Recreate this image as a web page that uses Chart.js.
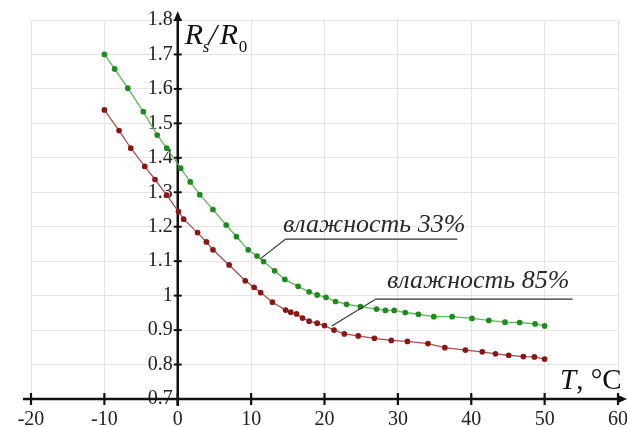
<!DOCTYPE html>
<html>
<head>
<meta charset="utf-8">
<script src="https://cdn.jsdelivr.net/npm/chart.js@4/dist/chart.umd.min.js"></script>
<style>
  html, body { margin: 0; padding: 0; background: #fff; }
  canvas { display: block; }
</style>
</head>
<body>
<canvas id="grafico" width="627" height="427"></canvas>
<script>
// Datos (T en °C, Rs/R0)
const temp33 = [-10, -8.6, -6.8, -4.7, -2.8, -1.5, 0.4, 1.7, 3.0, 4.8, 6.6, 8.0, 9.6, 10.8, 11.7, 13.2, 14.6, 16.4, 17.9, 19.0, 20.2, 21.5, 23.0, 24.9, 27.1, 28.3, 29.5, 31.0, 32.8, 34.9, 37.4, 40.1, 42.4, 44.6, 46.6, 48.7, 50.0];
const ratio33 = [1.70, 1.658, 1.602, 1.534, 1.466, 1.428, 1.37, 1.33, 1.293, 1.25, 1.205, 1.171, 1.133, 1.115, 1.099, 1.072, 1.047, 1.027, 1.011, 1.002, 0.995, 0.983, 0.975, 0.968, 0.961, 0.957, 0.957, 0.951, 0.946, 0.939, 0.939, 0.934, 0.928, 0.923, 0.922, 0.918, 0.912];

const temp85 = [-10, -8.0, -6.4, -4.5, -3.1, -1.5, 0.1, 0.8, 2.7, 3.9, 4.8, 7.0, 9.2, 10.4, 11.3, 12.9, 14.7, 15.4, 16.2, 17.0, 17.9, 19.0, 20.0, 21.3, 22.7, 24.6, 26.8, 29.1, 31.3, 34.1, 36.4, 39.2, 41.5, 43.3, 45.1, 47.1, 48.6, 50.0];
const ratio85 = [1.539, 1.479, 1.428, 1.375, 1.337, 1.292, 1.244, 1.222, 1.183, 1.156, 1.133, 1.089, 1.043, 1.024, 1.009, 0.981, 0.958, 0.952, 0.947, 0.935, 0.926, 0.920, 0.913, 0.900, 0.889, 0.883, 0.876, 0.870, 0.867, 0.861, 0.849, 0.842, 0.837, 0.831, 0.827, 0.823, 0.822, 0.816];

const xTicks = [-20, -10, 0, 10, 20, 30, 40, 50, 60];
const yTicks = [0.7, 0.8, 0.9, 1, 1.1, 1.2, 1.3, 1.4, 1.5, 1.6, 1.7, 1.8];

const etiqueta33 = 'влажность 33%';
const etiqueta85 = 'влажность 85%';

const serif = '"Liberation Serif", "DejaVu Serif", serif';

function puntos(xs, ys) {
    return xs.map((x, i) => ({ x: x, y: ys[i] }));
}

// los ejes van cruzados dentro del área: no deben reservar espacio
function sinMargen(s) {
    if (s.isHorizontal()) s.height = 0; else s.width = 0;
    s.paddingLeft = 0;
    s.paddingRight = 0;
    s.paddingTop = 0;
    s.paddingBottom = 0;
}

// Ejes gruesos con flechas y marcas, dibujados sobre la rejilla
const ejes = {
    id: 'ejes',
    beforeDatasetsDraw(chart) {
        const c = chart.ctx;
        const sx = chart.scales.x, sy = chart.scales.y;
        const x0 = sx.getPixelForValue(0);
        const y0 = sy.getPixelForValue(0.7);
        c.save();
        c.strokeStyle = '#111';
        c.fillStyle = '#111';
        c.lineWidth = 2.5;
        // eje x
        c.beginPath();
        c.moveTo(sx.getPixelForValue(-20) - 8, y0);
        c.lineTo(621, y0);
        c.stroke();
        c.beginPath();
        c.moveTo(627, y0);
        c.lineTo(617, y0 - 4.5);
        c.lineTo(617, y0 + 4.5);
        c.closePath();
        c.fill();
        // eje y
        c.beginPath();
        c.moveTo(x0, y0 + 7);
        c.lineTo(x0, 18);
        c.stroke();
        c.beginPath();
        c.moveTo(x0, 11);
        c.lineTo(x0 - 4, 21);
        c.lineTo(x0 + 4, 21);
        c.closePath();
        c.fill();
        // marcas
        c.lineWidth = 2.2;
        xTicks.forEach(v => {
            const px = sx.getPixelForValue(v);
            c.beginPath();
            c.moveTo(px, y0 - 6);
            c.lineTo(px, y0 + 6);
            c.stroke();
        });
        c.lineWidth = 2;
        yTicks.forEach(v => {
            if (v === 0.7) return;
            const py = sy.getPixelForValue(v);
            c.beginPath();
            c.moveTo(x0 - 4, py);
            c.lineTo(x0 + 4, py);
            c.stroke();
        });
        c.restore();
    },
    afterDatasetsDraw(chart) {
        const c = chart.ctx;
        const sx = chart.scales.x, sy = chart.scales.y;
        const x0 = sx.getPixelForValue(0);
        c.save();
        c.fillStyle = '#111';
        c.textBaseline = 'alphabetic';
        // Rs/R0
        c.font = 'italic 30px ' + serif;
        c.fillText('R', x0 + 7, 44);
        c.font = 'italic 17px ' + serif;
        c.fillText('s', x0 + 25, 52);
        c.font = 'italic 30px ' + serif;
        c.fillText('/', x0 + 31, 44);
        c.fillText('R', x0 + 42, 44);
        c.font = '17px ' + serif;
        c.fillText('0', x0 + 61, 52);
        // T, °C
        c.font = 'italic 29px ' + serif;
        c.fillText('T', 560, 389);
        const wT = c.measureText('T').width;
        c.font = '29px ' + serif;
        c.fillText(', °C', 560 + wT, 389);

        // rótulos con línea guía
        c.strokeStyle = '#333';
        c.fillStyle = '#2a2a2a';
        c.lineWidth = 1.2;
        c.font = 'italic 26px ' + serif;
        const rotulos = [
            { t: etiqueta33, ax: 11.2, ay: 1.106, bx: 14.7, by: 1.164, ex: 38.1, tx: 283, ty: 232 },
            { t: etiqueta85, ax: 21.0, ay: 0.912, bx: 27.0, by: 0.99, ex: 53.8, tx: 387, ty: 288 }
        ];
        rotulos.forEach(r => {
            c.beginPath();
            c.moveTo(sx.getPixelForValue(r.ax), sy.getPixelForValue(r.ay));
            c.lineTo(sx.getPixelForValue(r.bx), sy.getPixelForValue(r.by));
            c.lineTo(sx.getPixelForValue(r.ex), sy.getPixelForValue(r.by));
            c.stroke();
            c.fillText(r.t, r.tx, r.ty);
        });
        c.restore();
    }
};

document.addEventListener('DOMContentLoaded', function() {
    const ctx = document.getElementById('grafico').getContext('2d');

    new Chart(ctx, {
        type: 'scatter',
        data: {
            datasets: [{
                label: etiqueta33,
                data: puntos(temp33, ratio33),
                showLine: true,
                borderColor: '#5cb85c',
                borderWidth: 1.3,
                pointBackgroundColor: '#1f8a1f',
                pointBorderColor: '#1f8a1f',
                pointRadius: 2.2,
                tension: 0
            }, {
                label: etiqueta85,
                data: puntos(temp85, ratio85),
                showLine: true,
                borderColor: '#a85050',
                borderWidth: 1.3,
                pointBackgroundColor: '#8b1616',
                pointBorderColor: '#8b1616',
                pointRadius: 2.2,
                tension: 0
            }]
        },
        options: {
            responsive: false,
            animation: false,
            devicePixelRatio: 1,
            layout: { padding: { left: 31, right: 9, top: 20, bottom: 28 } },
            plugins: {
                legend: { display: false },
                tooltip: { enabled: false }
            },
            scales: {
                x: {
                    type: 'linear',
                    min: -20,
                    max: 60,
                    position: { y: 0.7 },
                    afterBuildTicks: s => { s.ticks = xTicks.map(v => ({ value: v })); },
                    afterFit: sinMargen,
                    ticks: {
                        font: { family: serif, size: 20 },
                        color: '#222',
                        padding: 9,
                        maxRotation: 0
                    },
                    grid: { color: '#e4e4e4', lineWidth: 1, drawTicks: false },
                    border: { display: false }
                },
                y: {
                    type: 'linear',
                    min: 0.7,
                    max: 1.8,
                    position: { x: 0 },
                    afterBuildTicks: s => { s.ticks = yTicks.map(v => ({ value: v })); },
                    afterFit: sinMargen,
                    ticks: {
                        font: { family: serif, size: 20 },
                        color: '#222',
                        padding: 5,
                        // el espacio final separa el número del eje
                        callback: v => String(+v.toFixed(1)) + ' '
                    },
                    grid: { color: '#e4e4e4', lineWidth: 1, drawTicks: false },
                    border: { display: false }
                }
            }
        },
        plugins: [ejes]
    });
});
</script>
</body>
</html>
